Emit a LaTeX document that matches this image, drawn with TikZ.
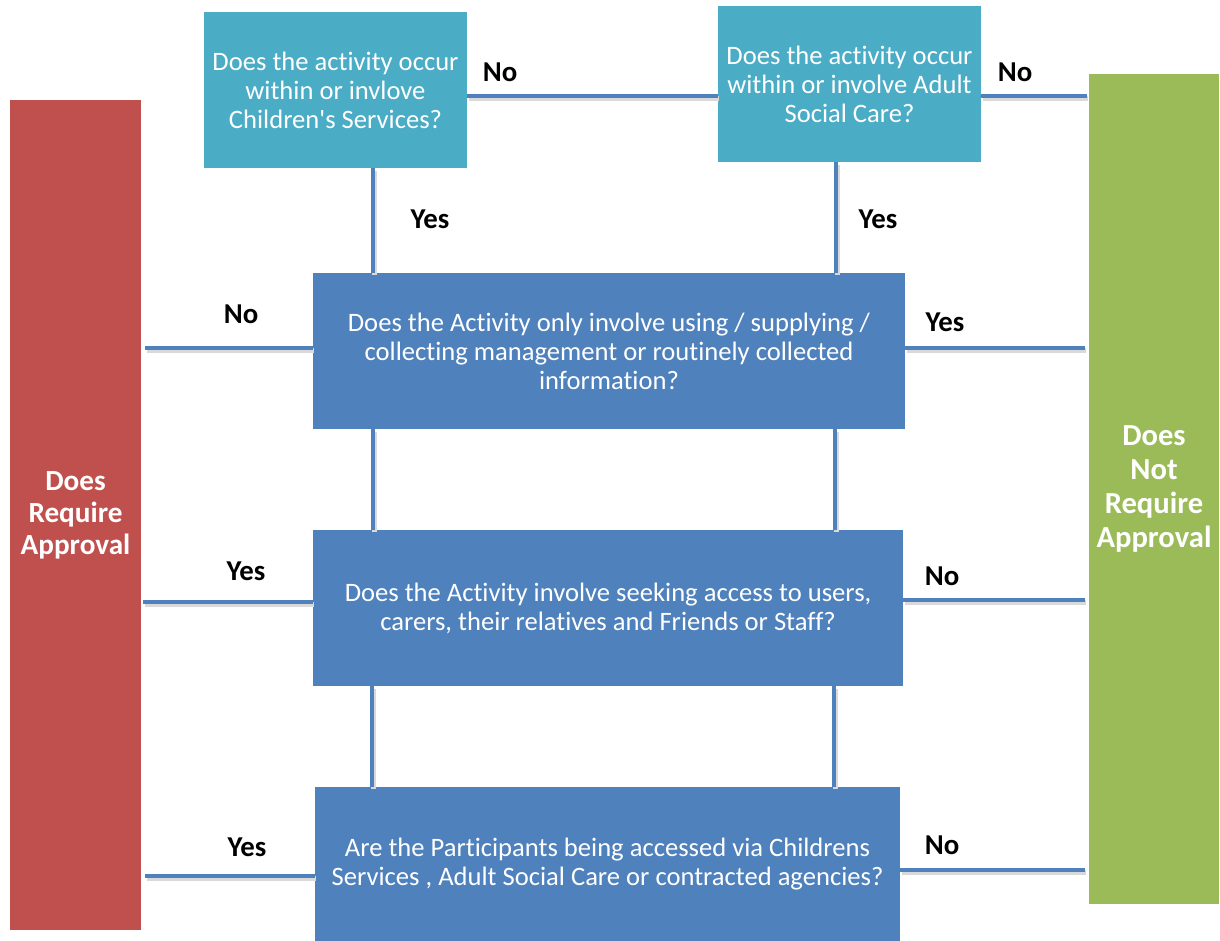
\documentclass[tikz,border=0pt]{standalone}
\usepackage{fontspec}
\setmainfont{Carlito}[Ligatures=NoCommon]
\usepackage{xcolor}
\definecolor{qteal}{HTML}{4BACC6}
\definecolor{qblue}{HTML}{4F81BD}
\definecolor{yesred}{HTML}{C0504D}
\definecolor{nogreen}{HTML}{9BBB59}
\usepackage{tikz}
\usetikzlibrary{positioning,calc}

\begin{document}
\begin{tikzpicture}[x=0.5pt,y=-0.5pt,
  ask/.style={rectangle,fill=qteal,text=white,inner sep=0pt,
    minimum width=131.5pt,minimum height=78pt,align=center,
    font=\fontsize{13.3}{14.5}\selectfont},
  check/.style={rectangle,fill=qblue,text=white,inner sep=0pt,
    minimum width=296pt,minimum height=78pt,align=center,
    font=\fontsize{13.3}{14.5}\selectfont},
  verdict/.style={rectangle,text=white,inner sep=0pt,
    minimum width=65.5pt,minimum height=415pt,align=center,
    font=\fontsize{14.6}{16}\selectfont\bfseries},
  tag/.style={font=\fontsize{14.4}{16}\selectfont\bfseries,text=black},
  link/.style={draw=qblue,line width=2pt,
    preaction={draw=black!15,line width=2.4pt,
      transform canvas={shift={(0.8pt,-1.4pt)}}}}]
  \useasboundingbox (0,0) rectangle (1220,941);
  % outcome bars
  \node[verdict,fill=yesred] (req) at (75.5,515) {Does\\Require\\Approval};
  \node[verdict,fill=nogreen,minimum width=65pt,
    font=\fontsize{15.3}{17}\selectfont\bfseries] (noreq) at (1154,489)
    {Does\\Not\\Require\\Approval};
  % questions
  \node[ask] (kids) at (335.5,90) {Does the activity occur\\within or invlove\\Children\textquotesingle s Services?};
  \node[ask] (adult) at (849.5,84) {Does the activity occur\\within or involve Adult\\Social Care?};
  \node[check] (info) at (609,351) {Does the Activity only involve using / supplying /\\collecting management or routinely collected\\information?};
  \node[check,minimum width=295pt] (access) at (608,608) {Does the Activity involve seeking access to users,\\carers, their relatives and Friends or Staff?};
  \node[check,minimum width=292.5pt,minimum height=77pt] (via) at (607.5,864) {Are the Participants being accessed via Childrens\\Services , Adult Social Care or contracted agencies?};
  % connectors
  \draw[link] (adult.west |- 0,96) -- (kids.east |- 0,96);
  \draw[link] (adult.east |- 0,96) -- ([xshift=-1pt]noreq.west |- 0,96);
  \draw[link] (kids.south -| 373,0) -- (info.north -| 373,0);
  \draw[link] (adult.south -| 836,0) -- (info.north -| 836,0);
  \draw[link] (info.west |- 0,348) -- ([xshift=2pt]req.east |- 0,348);
  \draw[link] (info.east |- 0,348) -- ([xshift=-2pt]noreq.west |- 0,348);
  \draw[link] (info.south -| 373,0) -- (access.north -| 373,0);
  \draw[link] (info.south -| 835,0) -- (access.north -| 835,0);
  \draw[link] (access.west |- 0,602) -- ([xshift=1pt]req.east |- 0,602);
  \draw[link] (access.east |- 0,600) -- ([xshift=-2pt]noreq.west |- 0,600);
  \draw[link] (access.south -| 372,0) -- (via.north -| 372,0);
  \draw[link] (access.south -| 834,0) -- (via.north -| 834,0);
  \draw[link] (via.west |- 0,876) -- ([xshift=2pt]req.east |- 0,876);
  \draw[link] (via.east |- 0,870) -- ([xshift=-2pt]noreq.west |- 0,870);
  % answers
  \node[tag] (no1) at (500,72) {No};
  \node[tag] (no2) at (1015,72) {No};
  \node[tag] (yes1) at (430,219) {Yes};
  \node[tag] (yes2) at (878,219) {Yes};
  \node[tag] (no3) at (241,314) {No};
  \node[tag] (yes3) at (945,322) {Yes};
  \node[tag] (yes4) at (246,571) {Yes};
  \node[tag] (no4) at (942,576) {No};
  \node[tag] (yes5) at (247,847) {Yes};
  \node[tag] (no5) at (942,845) {No};
\end{tikzpicture}
\end{document}
